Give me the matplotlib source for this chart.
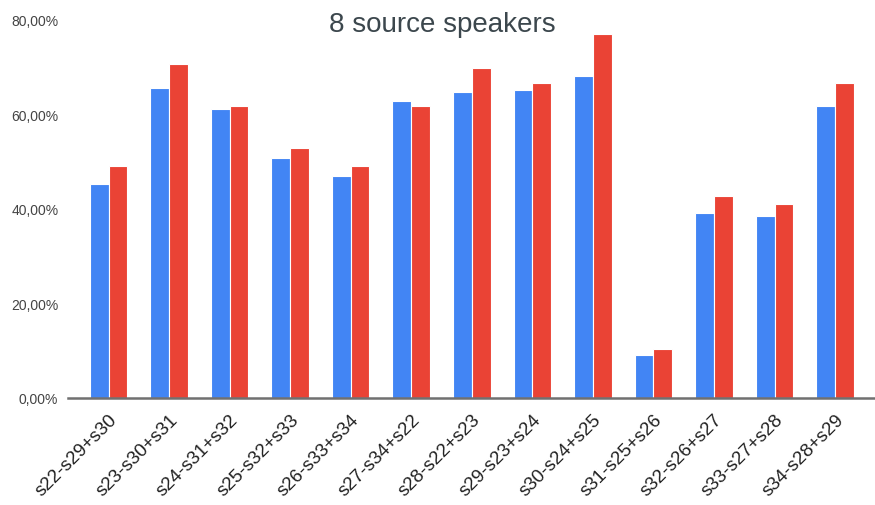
import matplotlib
matplotlib.use("Agg")
import matplotlib.pyplot as plt
import numpy as np
from matplotlib.ticker import FuncFormatter

plt.rcParams['font.family'] = ['Liberation Sans', 'DejaVu Sans']

categories = ["s22-s29+s30", "s23-s30+s31", "s24-s31+s32", "s25-s32+s33",
              "s26-s33+s34", "s27-s34+s22", "s28-s22+s23", "s29-s23+s24",
              "s30-s24+s25", "s31-s25+s26", "s32-s26+s27", "s33-s27+s28",
              "s34-s28+s29"]
series_blue = [45.2, 65.7, 61.2, 50.7, 47.0, 62.8, 64.8, 65.2, 68.2, 9.0, 39.2, 38.6, 61.9]
series_red = [49.2, 70.6, 61.7, 53.0, 49.2, 61.9, 69.8, 66.7, 77.0, 10.3, 42.8, 41.0, 66.7]
y_ticks = [0, 20, 40, 60, 80]

fig = plt.figure(figsize=(8.75, 5.06), dpi=100)
ax = fig.add_axes([68 / 875, 1 - 399 / 506, 807 / 875, (399 - 21) / 506])

x = np.arange(len(categories))
w = 0.31
ax.bar(x - w / 2, series_blue, width=w, color='#4285F4', edgecolor='white', linewidth=0.8)
ax.bar(x + w / 2, series_red, width=w, color='#EA4335', edgecolor='white', linewidth=0.8)

ax.set_xlim(-0.67, len(categories) - 0.34)
ax.set_ylim(0, 80)
ax.set_yticks(y_ticks)
ax.yaxis.set_major_formatter(FuncFormatter(lambda v, p: f"{v:.2f}%".replace('.', ',')))
ax.tick_params(axis='y', length=0, pad=7, labelsize=10, labelcolor='#444444')

ax.set_xticks(x)
ax.set_xticklabels(categories, rotation=45, ha='right', va='top',
                   rotation_mode='anchor', fontsize=13.5, color='#222222')
ax.tick_params(axis='x', length=0, pad=9)

for s in ['top', 'right', 'left']:
    ax.spines[s].set_visible(False)
ax.spines['bottom'].set_color('#707070')
ax.spines['bottom'].set_linewidth(1.8)

fig.text(442 / 875, 1 - 31.5 / 506, "8 source speakers", ha='center', va='baseline',
         fontsize=20, color='#3c474d')

fig.savefig("out.png", dpi=100, facecolor='white')
